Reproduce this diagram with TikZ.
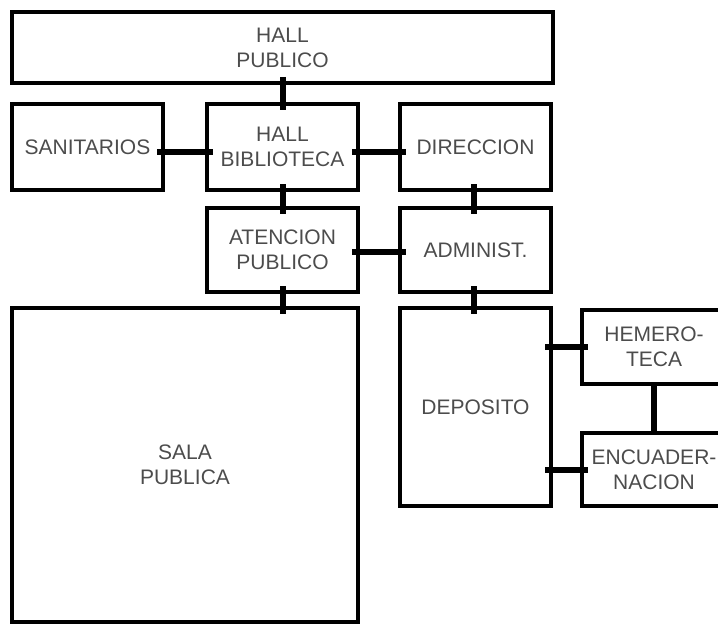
\documentclass[tikz,border=0pt]{standalone}
\usepackage{fontspec}
\setmainfont{Liberation Sans}
\usetikzlibrary{positioning}
\tikzset{
  room/.style={
    shape = rectangle,
    draw,
    line width = 4pt,
    inner sep = 0pt,
    align = center,
    text = black!70,
    font = \fontsize{21}{25}\selectfont
  },
  link/.style={
    line width = 6pt,
    shorten <= -8pt,
    shorten >= -8pt
  },
}

\begin{document}
\begin{tikzpicture}[x=1pt,y=-1pt]
         \clip (0,0) rectangle (718,626);

         % first row
         \node[room, minimum width=541pt, minimum height=71pt] (hp) at (282.5,47.5) {HALL\\PUBLICO};

         % second row
         \node[room, minimum width=151pt, minimum height=86pt] (san) at (87.5,147) {SANITARIOS};
         \node[room, minimum width=151pt, minimum height=86pt] (hb) at (282.5,147) {HALL\\BIBLIOTECA};
         \node[room, minimum width=151pt, minimum height=86pt] (dir) at (475.5,147) {DIRECCION};

         % third row
         \node[room, minimum width=151pt, minimum height=84pt] (atn) at (282.5,250) {ATENCION\\PUBLICO};
         \node[room, minimum width=151pt, minimum height=84pt] (adm) at (475.5,250) {ADMINIST.};

         % lower part
         \node[room, minimum width=346pt, minimum height=314pt] (sala) at (185,465) {SALA\\PUBLICA};
         \node[room, minimum width=151pt, minimum height=198pt] (dep) at (475.5,407) {DEPOSITO};
         \node[room, minimum width=144pt, minimum height=74pt] (hem) at (654,347) {HEMERO-\\TECA};
         \node[room, minimum width=144pt, minimum height=73pt] (enc) at (654,469.5) {ENCUADER-\\NACION};

         % connections
         \draw[link] (hp.south) -- (hb.north);
         \draw[link] ([yshift=-5pt]san.east) -- ([yshift=-5pt]hb.west);
         \draw[link] ([yshift=-5pt]hb.east) -- ([yshift=-5pt]dir.west);
         \draw[link] ([xshift=-2pt]dir.south) -- ([xshift=-2pt]adm.north);
         \draw[link] (hb.south) -- (atn.north);
         \draw[link] ([yshift=-2pt]atn.east) -- ([yshift=-2pt]adm.west);
         \draw[link] (atn.south) -- (sala.north -| atn.south);
         \draw[link] ([xshift=-2pt]adm.south) -- ([xshift=-2pt]dep.north);
         \draw[link] (dep.east |- hem.west) -- (hem.west);
         \draw[link, shorten <=-3pt, shorten >=-3pt] (hem.south) -- (enc.north);
         \draw[link] (dep.east |- enc.west) -- (enc.west);
\end{tikzpicture}
\end{document}
